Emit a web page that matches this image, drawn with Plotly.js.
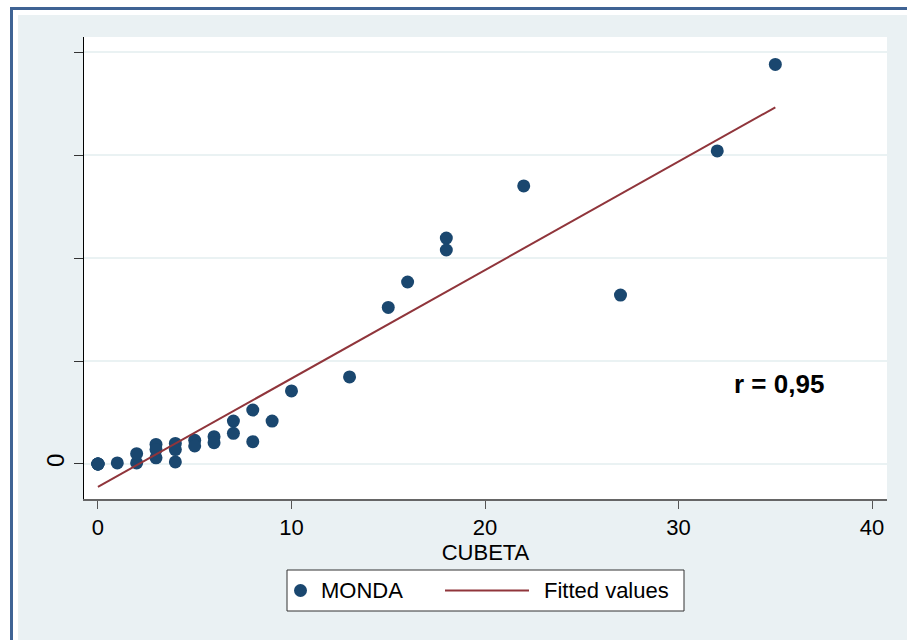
<!DOCTYPE html>
<html>
<head>
<meta charset="utf-8">
<script src="https://cdn.plot.ly/plotly-3.0.1.min.js"></script>
<style>
  html, body { margin: 0; padding: 0; background: #ffffff; }
  #chart { width: 907px; height: 640px; }
</style>
</head>
<body>
<div id="chart"></div>
<script>
// Data
const cubeta = [0, 0, 0, 0, 0, 1, 2, 2, 3, 3, 3, 4, 4, 4, 5, 5, 6, 6, 7, 7, 8, 8, 9, 10, 13, 15, 16, 18, 18, 22, 27, 32, 35];
const monda  = [0, 0, 0, 0, 0, 1, 1, 10, 19, 14, 6, 20, 14, 2, 23, 17.5, 26.5, 20.7, 41.7, 29.8, 52.4, 21.7, 41.7, 70.9, 84.5, 152, 176.7, 219.4, 207.8, 270, 164, 304, 388];
const fitX = [0, 35];
const fitY = [-22.3, 346.3];
const xTicks = [0, 10, 20, 30, 40];
const yTicks = [0, 100, 200, 300, 400];
const yTickText = ['0', '', '', '', ''];
const seriesNames = ['MONDA', 'Fitted values'];
const xTitle = 'CUBETA';
const rText = 'r = 0,95';

// pixel -> paper helpers (plot area: x 84..887, y 37..499)
const L = 84, R = 887, T = 37, B = 499;
const px = v => (v - L) / (R - L);
const py = v => (B - v) / (B - T);

const FONT = 'Liberation Sans, Arial, sans-serif';
const NAVY = '#1a476f', MAROON = '#90353b';

const traces = [
  {
    x: cubeta, y: monda, type: 'scatter', mode: 'markers', name: seriesNames[0],
    marker: { color: NAVY, size: 13 }
  },
  {
    x: fitX, y: fitY, type: 'scatter', mode: 'lines', name: seriesNames[1],
    line: { color: MAROON, width: 2 }
  }
];

// legend drawn as a box (Stata style) below the plot
const legY = 590.5;
const legendShapes = [
  { type: 'rect', xref: 'paper', yref: 'paper', layer: 'above',
    x0: px(287), x1: px(684), y0: py(570), y1: py(611),
    fillcolor: '#ffffff', line: { color: '#333', width: 1 } },
  { type: 'circle', xref: 'paper', yref: 'paper', layer: 'above',
    x0: px(294), x1: px(307), y0: py(legY - 6.5), y1: py(legY + 6.5),
    fillcolor: NAVY, line: { width: 0 } },
  { type: 'line', xref: 'paper', yref: 'paper', layer: 'above',
    x0: px(445), x1: px(529), y0: py(legY), y1: py(legY),
    line: { color: MAROON, width: 2 } }
];
const legendTexts = [
  { xref: 'paper', yref: 'paper', x: px(319), y: py(legY), xanchor: 'left', yanchor: 'middle',
    text: seriesNames[0], showarrow: false, font: { family: FONT, size: 22, color: '#000' } },
  { xref: 'paper', yref: 'paper', x: px(542), y: py(legY), xanchor: 'left', yanchor: 'middle',
    text: seriesNames[1], showarrow: false, font: { family: FONT, size: 22, color: '#000' } }
];

const layout = {
  width: 907, height: 640,
  margin: { l: L, r: 907 - R, t: T, b: 640 - B, pad: 0 },
  paper_bgcolor: '#ffffff',
  plot_bgcolor: '#ffffff',
  font: { family: FONT, size: 22, color: '#000' },
  showlegend: false,
  xaxis: {
    range: [-0.72, 40.77],
    tickvals: xTicks, ticktext: xTicks.map(String),
    ticks: 'outside', ticklen: 8, tickcolor: '#555', tickwidth: 1,
    showline: true, linecolor: '#666', linewidth: 1.5,
    showgrid: false, zeroline: false,
    tickfont: { family: FONT, size: 22, color: '#000' },
    title: { text: xTitle, font: { family: FONT, size: 22, color: '#000' }, standoff: 4 }
  },
  yaxis: {
    range: [-34, 414.6],
    tickvals: yTicks, ticktext: yTickText,
    tickangle: -90,
    ticks: 'outside', ticklen: 9, tickcolor: '#333', tickwidth: 1,
    showline: true, linecolor: '#000', linewidth: 1.5,
    showgrid: true, gridcolor: '#eaf2f3', gridwidth: 1.5,
    zeroline: false,
    tickfont: { family: FONT, size: 24, color: '#000' }
  },
  shapes: [
    // light background region inside the frame
    { type: 'rect', xref: 'paper', yref: 'paper', layer: 'below',
      x0: px(18), x1: px(920), y0: py(15), y1: py(660),
      fillcolor: '#eaf1f3', line: { width: 0 } },
    // white plot region
    { type: 'rect', xref: 'paper', yref: 'paper', layer: 'below',
      x0: 0, x1: 1, y0: 0, y1: 1,
      fillcolor: '#ffffff', line: { width: 0 } },
    // frame lines (left and top)
    { type: 'line', xref: 'paper', yref: 'paper', layer: 'below',
      x0: px(11.5), x1: px(11.5), y0: py(7), y1: py(660),
      line: { color: '#3f6394', width: 3 } },
    { type: 'line', xref: 'paper', yref: 'paper', layer: 'below',
      x0: px(10), x1: px(920), y0: py(8.5), y1: py(8.5),
      line: { color: '#3f6394', width: 3 } }
  ].concat(legendShapes),
  annotations: [
    { x: 35.2, y: 77.7, xref: 'x', yref: 'y', text: '<b>' + rText + '</b>',
      showarrow: false, font: { family: FONT, size: 26, color: '#000' } }
  ].concat(legendTexts)
};

Plotly.newPlot('chart', traces, layout, { staticPlot: true, displayModeBar: false });
</script>
</body>
</html>
